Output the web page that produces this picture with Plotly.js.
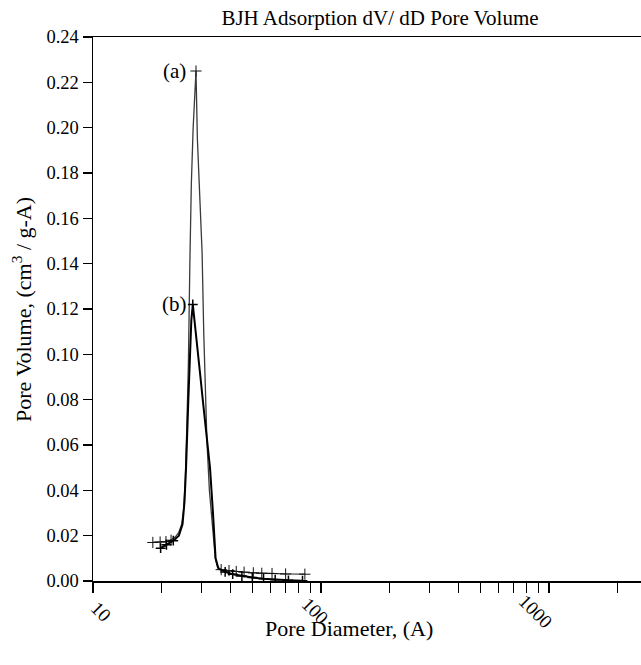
<!DOCTYPE html>
<html>
<head>
<meta charset="utf-8">
<script src="https://cdn.plot.ly/plotly-3.0.1.min.js"></script>
<style>html,body{margin:0;padding:0;background:#fff;}#chart{width:641px;height:665px;}</style>
</head>
<body>
<div id="chart"></div>
<script>
// Curve (a): pore diameter (A) and pore volume (cm3/g-A)
const diamA = [18.3, 19.7, 20.9, 22.0, 23.0, 23.8, 24.5, 25.0, 25.4, 25.8, 26.2, 26.6, 27.0, 27.5, 28.0, 28.3, 28.7, 29.4, 30.1, 30.6, 31.0, 31.6, 32.4, 33.2, 33.8, 34.4, 35.2, 36.5, 39.5, 42.5, 46.0, 50.5, 55.0, 61.0, 70.0, 85.0];
const volA  = [0.0170, 0.0172, 0.0174, 0.0180, 0.0195, 0.0215, 0.0250, 0.0320, 0.0450, 0.0680, 0.0950, 0.1400, 0.1750, 0.2000, 0.2200, 0.2250, 0.1950, 0.1700, 0.1450, 0.1100, 0.0850, 0.0620, 0.0400, 0.0270, 0.0180, 0.0100, 0.0060, 0.0050, 0.0046, 0.0042, 0.0039, 0.0036, 0.0034, 0.0033, 0.0031, 0.0030];
// Curve (b)
const diamB = [19.8, 21.0, 22.5, 23.8, 24.7, 25.2, 25.6, 26.2, 26.6, 27.0, 27.4, 27.9, 28.8, 29.6, 30.3, 31.4, 32.6, 33.6, 34.5, 35.5, 38.0, 41.0, 45.0, 50.0, 56.0, 63.0, 72.0, 83.0];
const volB  = [0.0145, 0.0160, 0.0178, 0.0200, 0.0250, 0.0350, 0.0500, 0.0800, 0.1020, 0.1150, 0.1220, 0.1150, 0.1020, 0.0900, 0.0800, 0.0650, 0.0500, 0.0300, 0.0100, 0.0055, 0.0040, 0.0030, 0.0022, 0.0015, 0.0010, 0.0006, 0.0003, 0.0001];

const xTickVals = [10,20,30,40,50,60,70,80,90,100,200,300,400,500,600,700,800,900,1000,2000];
const xLabelVals = [10, 100, 1000];
const xLabelText = ['10', '100', '1000'];
const yTickVals = [0,0.02,0.04,0.06,0.08,0.10,0.12,0.14,0.16,0.18,0.20,0.22,0.24];

const serif = 'Liberation Serif, Times New Roman, serif';

// markers are shown on the tails and at the peak only
function markIdx(d, v) {
  const peak = v.indexOf(Math.max(...v));
  return d.map((x, i) => i).filter(i => d[i] < 22.6 || d[i] > 36 || i === peak);
}
const mA = markIdx(diamA, volA), mB = markIdx(diamB, volB);

const traces = [
  {x: diamA, y: volA, type: 'scatter', mode: 'lines', line: {color: '#3a3a3a', width: 1.3}},
  {x: mA.map(i => diamA[i]), y: mA.map(i => volA[i]), type: 'scatter', mode: 'markers',
   marker: {symbol: 'cross-thin-open', size: 8, color: '#111', line: {color: '#111', width: 1}}},
  {x: diamB, y: volB, type: 'scatter', mode: 'lines', line: {color: '#000000', width: 2}},
  {x: mB.map(i => diamB[i]), y: mB.map(i => volB[i]), type: 'scatter', mode: 'markers',
   marker: {symbol: 'cross-thin-open', size: 7, color: '#000', line: {color: '#000', width: 1.5}}}
];

const labelShift = [8, -5, -13];
const xLabelAnn = xLabelVals.map((v, i) => ({
  text: xLabelText[i], xref: 'x', yref: 'paper', x: Math.log10(v), y: -(611-581)/544,
  xanchor: 'center', yanchor: 'middle', xshift: labelShift[i], textangle: 45,
  showarrow: false, font: {family: serif, size: 19}
}));

const layout = {
  width: 641, height: 665,
  margin: {l: 93, r: 0, t: 37, b: 84},
  paper_bgcolor: '#fff', plot_bgcolor: '#fff',
  showlegend: false,
  font: {family: serif, color: '#000', size: 18},
  title: {text: 'BJH Adsorption dV/ dD Pore Volume', font: {family: serif, size: 21, color: '#000'},
          xref: 'container', x: 380/641, xanchor: 'center', yref: 'container', y: 1 - 18/665, yanchor: 'middle'},
  xaxis: {type: 'log', range: [1, 3.404], tickvals: xTickVals, showticklabels: false,
          ticks: 'outside', ticklen: 10, tickwidth: 1.2, tickcolor: '#000',
          showline: true, linecolor: '#000', linewidth: 1.5, mirror: true,
          showgrid: false, zeroline: false},
  yaxis: {range: [0, 0.24], tickvals: yTickVals, tickformat: '.2f',
          ticks: 'outside', ticklen: 9, tickwidth: 1.2, tickcolor: '#000',
          showline: true, linecolor: '#000', linewidth: 1.5,
          showgrid: false, zeroline: false, tickfont: {family: serif, size: 18.5}},
  annotations: xLabelAnn.concat([
    {text: '(a)', xref: 'x', yref: 'y', x: Math.log10(28.3), y: 0.225, xanchor: 'right', yanchor: 'middle',
     xshift: -8, showarrow: false, font: {family: serif, size: 21}},
    {text: '(b)', xref: 'x', yref: 'y', x: Math.log10(27.4), y: 0.122, xanchor: 'right', yanchor: 'middle',
     xshift: -4, showarrow: false, font: {family: serif, size: 21}},
    {text: 'Pore Diameter, (A)', xref: 'paper', yref: 'paper', x: (349-93)/548, y: -(628-581)/544,
     xanchor: 'center', yanchor: 'middle', showarrow: false, font: {family: serif, size: 22}},
    {text: 'Pore Volume, (cm<sup>3</sup> / g-A)', xref: 'paper', yref: 'paper', x: (22-93)/548, y: (581-310)/544,
     xanchor: 'center', yanchor: 'middle', textangle: -90, showarrow: false, font: {family: serif, size: 22}}
  ])
};

Plotly.newPlot('chart', traces, layout, {displayModeBar: false, staticPlot: true});
</script>
</body>
</html>
